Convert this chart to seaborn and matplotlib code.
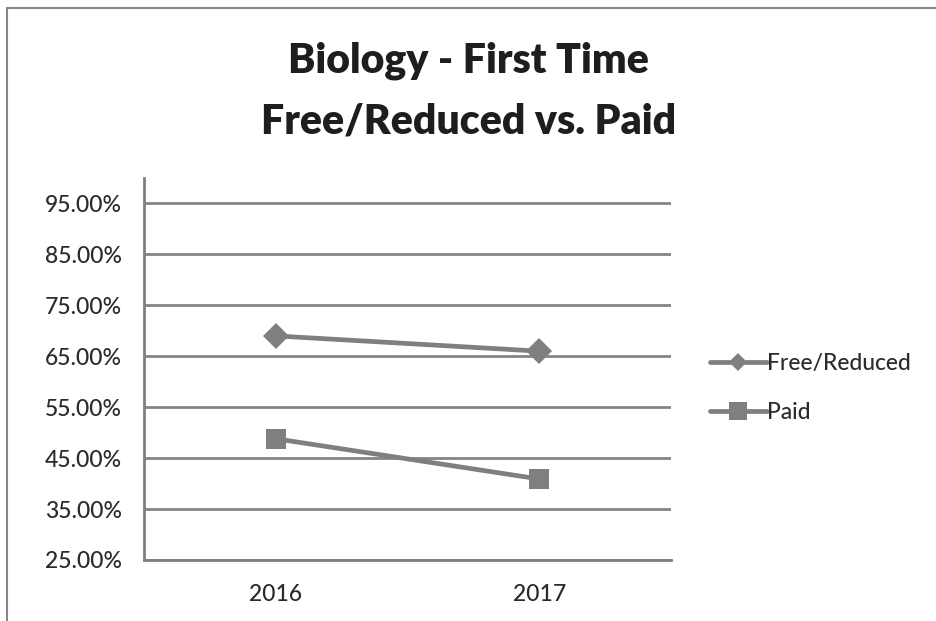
import numpy as np
import pandas as pd
import matplotlib
matplotlib.use("Agg")
import matplotlib.pyplot as plt
import seaborn as sns
from matplotlib.ticker import FuncFormatter

# values (percent)
years = ["2016", "2017"]
free_reduced = [69.0, 66.0]
paid = [48.8, 40.9]
series_names = ["Free/Reduced", "Paid"]
y_ticks = [25, 35, 45, 55, 65, 75, 85, 95]

df = pd.DataFrame({
    "year": years * 2,
    "pct": free_reduced + paid,
    "group": [series_names[0]] * len(years) + [series_names[1]] * len(years),
})
df["x"] = df["year"].map({y: i for i, y in enumerate(years)})

sns.set_theme(style="white")
plt.rcParams["font.family"] = ["Lato", "DejaVu Sans"]

grey = "#7f7f7f"
txt = "#2b2b2b"
fig = plt.figure(figsize=(9.37, 6.21), dpi=100)
# axes box: x 144..671 px, y 178..560 px
ax = fig.add_axes([144 / 937, 61 / 621, 527 / 937, 382 / 621])

sns.lineplot(data=df, x="x", y="pct", hue="group", style="group",
             palette=[grey, grey], markers={"Free/Reduced": "D", "Paid": "s"},
             dashes=False, linewidth=3.4, markeredgewidth=0,
             ax=ax, legend=False)
ax.lines[0].set_markersize(13)
ax.lines[1].set_markersize(14.5)

ax.set_xlim(-0.5, 1.5)
ax.set_ylim(25, 100)
ax.set_yticks(y_ticks)
ax.yaxis.set_major_formatter(FuncFormatter(lambda v, p: f"{v:.2f}%"))
ax.set_xticks([0, 1])
ax.set_xticklabels(years)
ax.set_xticks([-0.5, 0.5, 1.5], minor=True)
ax.tick_params(axis="x", which="major", length=0, pad=17, labelsize=16.5, labelcolor=txt)
ax.tick_params(axis="x", which="minor", length=6, width=2, color=grey, direction="out")
ax.tick_params(axis="y", length=5, width=2, color=grey, direction="out", pad=11,
               labelsize=16.5, labelcolor=txt)
for lab in ax.get_xticklabels() + ax.get_yticklabels():
    lab.set_fontweight("medium")
ax.yaxis.grid(True, color="#858585", linewidth=2)
ax.set_axisbelow(True)
ax.set_xlabel("")
ax.set_ylabel("")
for s in ["top", "right"]:
    ax.spines[s].set_visible(False)
for s in ["left", "bottom"]:
    ax.spines[s].set_color(grey)
    ax.spines[s].set_linewidth(2)

fig.text(0.5, 1 - 73 / 621, "Biology - First Time", ha="center", va="baseline",
         fontsize=29.5, fontweight="heavy", color="#1e1e1e")
fig.text(0.5, 1 - 134 / 621, "Free/Reduced vs. Paid", ha="center", va="baseline",
         fontsize=29.5, fontweight="heavy", color="#1e1e1e")

handles = [plt.Line2D([], [], color=grey, lw=3.4, marker="D", markersize=9, markeredgewidth=0),
           plt.Line2D([], [], color=grey, lw=3.4, marker="s", markersize=13, markeredgewidth=0)]
leg = fig.legend(handles, series_names, loc="center left", bbox_to_anchor=(689 / 937, 1 - 388 / 621),
                 frameon=False, fontsize=16.5, handlelength=2.5, handletextpad=0.0,
                 labelspacing=1.2, labelcolor=txt)
for t in leg.get_texts():
    t.set_fontweight("medium")

# scanned page border (top and left)
fig.add_artist(plt.Line2D([7 / 937, 1.0], [1 - 8 / 621, 1 - 8 / 621], transform=fig.transFigure,
                          color="#888888", lw=1.5))
fig.add_artist(plt.Line2D([7 / 937, 7 / 937], [0.0, 1 - 8 / 621], transform=fig.transFigure,
                          color="#888888", lw=1.5))

fig.savefig("out.png", dpi=100)
